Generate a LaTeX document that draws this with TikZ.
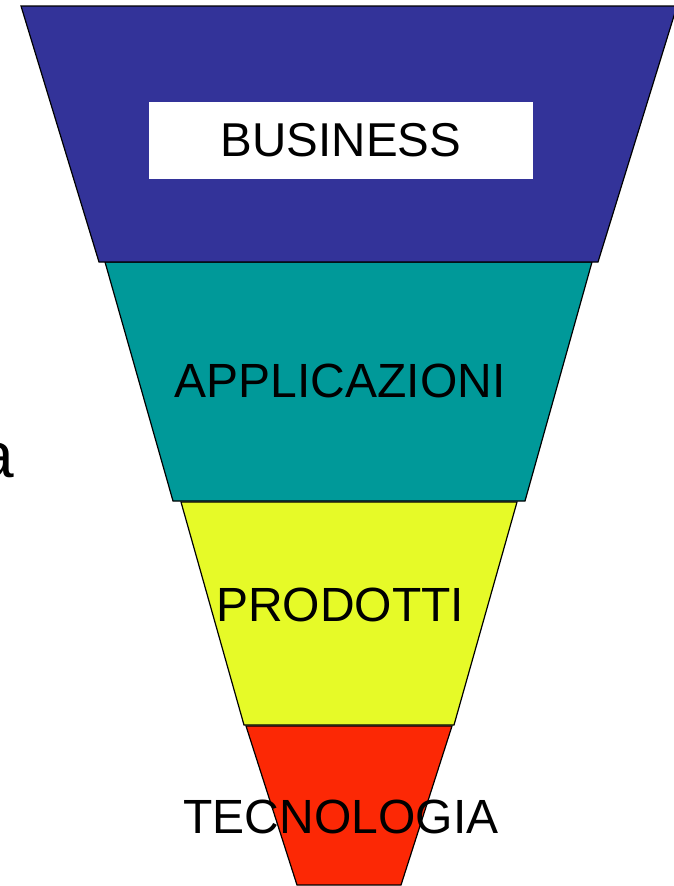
\documentclass[tikz,border=0pt]{standalone}
\usepackage{fontspec}
\setmainfont{Liberation Sans}
\definecolor{bizblue}{RGB}{51,51,153}
\definecolor{appteal}{RGB}{0,153,153}
\definecolor{prodyellow}{RGB}{230,250,40}
\definecolor{techred}{RGB}{252,40,5}
\begin{document}
\begin{tikzpicture}[x=1pt,y=-1pt,
  layer/.style={draw=black, line width=1.2pt, line join=miter},
  label/.style={inner sep=0pt, font=\fontsize{48}{55}\selectfont}]

\useasboundingbox (0,0) rectangle (673,886);

% Funnel layers
  \filldraw[layer, fill=techred] (246,726) -- (452,726) -- (401,885) -- (297,885) -- cycle;
  \filldraw[layer, fill=prodyellow] (181,502) -- (517,502) -- (454,725) -- (244,725) -- cycle;
  \filldraw[layer, fill=appteal] (105,262) -- (592,262) -- (525,501) -- (173,501) -- cycle;
  \filldraw[layer, fill=bizblue] (21,6) -- (677,6) -- (598,262) -- (99,262) -- cycle;

  \fill[white] (149,102) rectangle (533,179);

  \node[label, font=\fontsize{47.5}{55}\selectfont] (business) at (341,140.5) {BUSINESS};
  \node[label] (applicazioni) at (340,380.5) {APPLICAZIONI};
  \node[label] (prodotti) at (340,604.5) {PRODOTTI};
  \node[label] (tecnologia) at (341,816.5) {TECNOLOGIA};

  \node[inner sep=0pt, anchor=base east, font=\fontsize{64}{70}\selectfont] (cutoff) at (14,477.5) {a};

\end{tikzpicture}
\end{document}
